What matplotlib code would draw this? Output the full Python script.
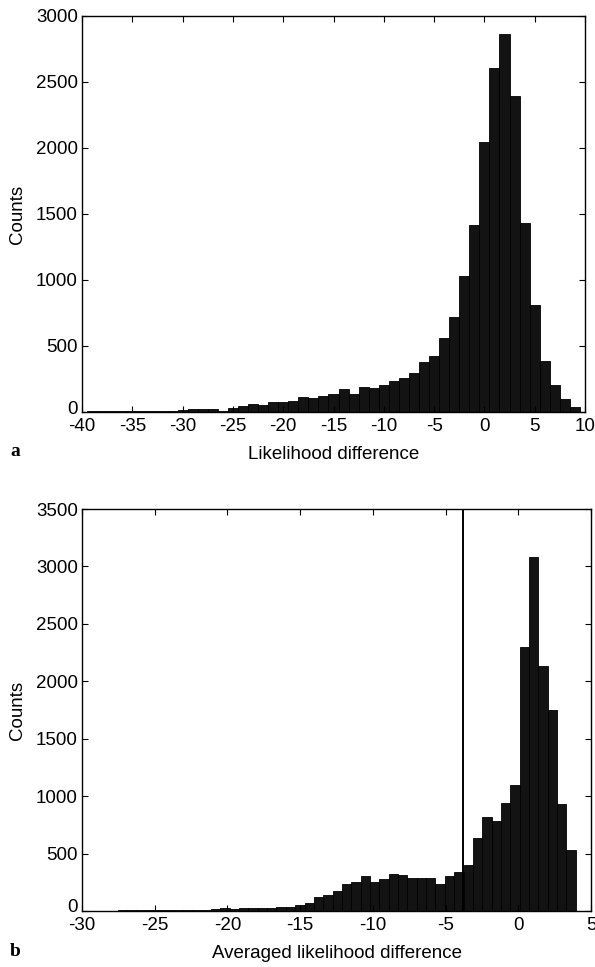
import numpy as np
import matplotlib
matplotlib.use("Agg")
import matplotlib.pyplot as plt
from matplotlib.transforms import ScaledTranslation

plt.rcParams['font.family'] = ['Liberation Sans', 'DejaVu Sans']
plt.rcParams['axes.unicode_minus'] = False

# ---- Panel a: likelihood difference (bins of width 1 centred on integers) ----
a_bin_range = (-40.5, 9.5)
a_counts = [2, 4, 4, 5, 4, 6, 4, 5, 4, 8,
            18, 20, 22, 25, 10, 30, 45, 58, 50, 75,
            73, 83, 113, 105, 123, 133, 173, 139, 187, 185,
            205, 235, 261, 298, 377, 425, 559, 716, 1032, 1414,
            2044, 2608, 2861, 2393, 1432, 812, 387, 205, 96, 35]
a_xticks = [-40, -35, -30, -25, -20, -15, -10, -5, 0, 5, 10]
a_yticks = [0, 500, 1000, 1500, 2000, 2500, 3000]

# ---- Panel b: averaged likelihood difference (50 bins) ----
b_bin_range = (-28.2, 3.95)
b_counts = [3, 5, 6, 10, 10, 10, 8, 8, 9, 9,
            10, 16, 23, 18, 26, 30, 23, 30, 36, 37,
            55, 71, 122, 142, 178, 235, 250, 305, 252, 279,
            325, 310, 290, 290, 287, 238, 305, 337, 403, 638,
            815, 781, 940, 1094, 2301, 3085, 2133, 1750, 929, 534]
b_threshold = -3.77
b_xticks = [-30, -25, -20, -15, -10, -5, 0, 5]
b_yticks = [0, 500, 1000, 1500, 2000, 2500, 3000, 3500]

W, H = 595, 967
fig = plt.figure(figsize=(W / 100, H / 100), dpi=100)

def px_axes(l, t, r, b):
    return fig.add_axes([l / W, 1 - b / H, (r - l) / W, (b - t) / H])

ax1 = px_axes(82, 16, 585, 412)
ax2 = px_axes(82, 509, 591, 911)

FS = 13.5
bar_face = '#131313'

def draw(ax, rng, counts, xlim, ylim, xticks, yticks, xlabel):
    edges = np.linspace(rng[0], rng[1], len(counts) + 1)
    centers = 0.5 * (edges[:-1] + edges[1:])
    ax.hist(centers, bins=edges, weights=counts, color=bar_face,
            edgecolor='black', linewidth=0.6)
    ax.set_xlim(*xlim)
    ax.set_ylim(*ylim)
    ax.set_xticks(xticks)
    ax.set_yticks(yticks)
    ax.set_xticklabels([str(v) for v in xticks])
    ax.set_yticklabels([str(v) for v in yticks])
    ax.tick_params(direction='in', top=True, right=True, length=4, width=0.8,
                   labelsize=FS, colors='black')
    ax.tick_params(axis='x', pad=4.5)
    ax.tick_params(axis='y', pad=3)
    for s in ax.spines.values():
        s.set_linewidth(1.0)
    ax.set_xlabel(xlabel, fontsize=FS, labelpad=7.5)
    ax.set_ylabel('Counts', fontsize=FS, labelpad=7)
    # MATLAB-like: the "0" y label sits slightly above the corner
    lbl = ax.get_yticklabels()[0]
    lbl.set_transform(lbl.get_transform() +
                      ScaledTranslation(0, 5 / 100, fig.dpi_scale_trans))

draw(ax1, a_bin_range, a_counts, (-40, 10), (0, 3000), a_xticks, a_yticks,
     'Likelihood difference')
draw(ax2, b_bin_range, b_counts, (-30, 5), (0, 3500), b_xticks, b_yticks,
     'Averaged likelihood difference')
ax2.axvline(b_threshold, color='black', linewidth=1.4)

fig.text(10 / W, 1 - 452 / H, 'a', fontsize=14, fontweight='bold',
         family='Liberation Serif', va='center', ha='left')
fig.text(10 / W, 1 - 952 / H, 'b', fontsize=14, fontweight='bold',
         family='Liberation Serif', va='center', ha='left')

fig.savefig('out.png', dpi=100)
